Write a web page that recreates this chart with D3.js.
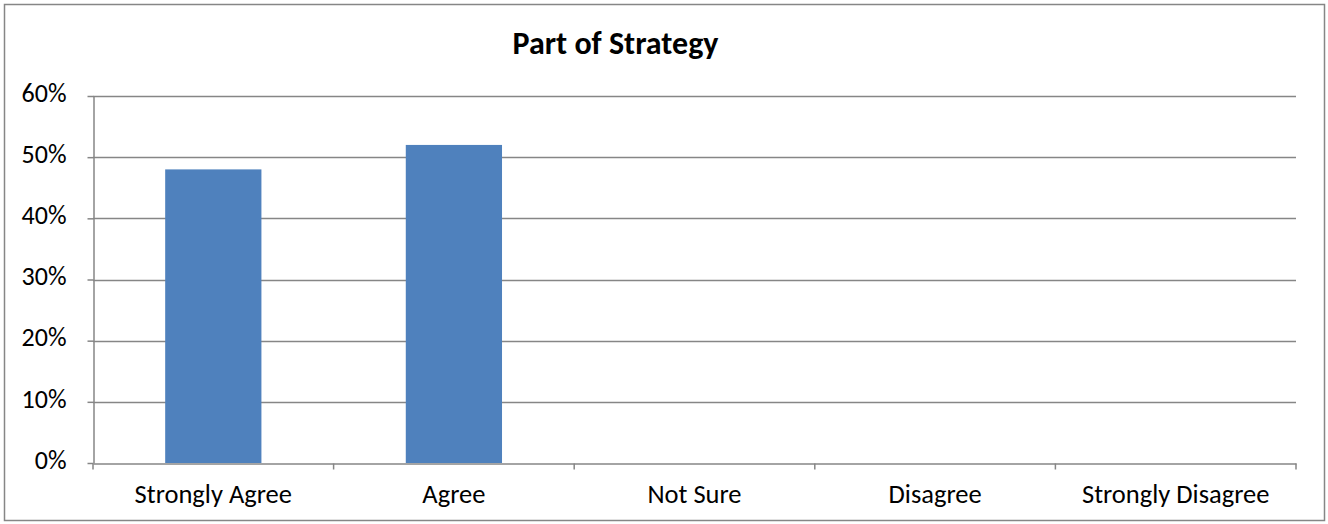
<!DOCTYPE html>
<html><head><meta charset="utf-8">
<script src="https://cdn.jsdelivr.net/npm/d3@7"></script>
<style>body{margin:0;background:#fff}svg{display:block}</style>
</head><body>
<svg id="c" width="1328" height="524"></svg>
<script>
const title = "Part of Strategy";
const categories = ["Strongly Agree","Agree","Not Sure","Disagree","Strongly Disagree"];
const values = [0.48, 0.52, 0, 0, 0];
const yTicks = [0, 0.1, 0.2, 0.3, 0.4, 0.5, 0.6];

const svg = d3.select("#c");
const font = "Carlito, 'Open Sans', 'Noto Sans', sans-serif";
const m = {l:93, r:1296, t:96, b:463};

svg.append("rect").attr("x",4.5).attr("y",4.5).attr("width",1320).attr("height",516)
  .attr("fill","#fff").attr("stroke","#868686").attr("stroke-width",1.5);

const x = d3.scaleBand().domain(categories).range([m.l, m.r]).padding(0);
const y = d3.scaleLinear().domain([0, 0.6]).range([m.b, m.t]);

// gridlines
svg.append("g").selectAll("line").data(yTicks.filter(d=>d>0)).join("line")
  .attr("x1", m.l).attr("x2", m.r).attr("y1", d=>Math.round(y(d))+0.5).attr("y2", d=>Math.round(y(d))+0.5)
  .attr("stroke","#868686").attr("stroke-width",1.5);

// bars
svg.append("g").selectAll("rect").data(categories.map((c,i)=>({c, v:values[i]})).filter(d=>d.v>0)).join("rect")
  .attr("x", d=>x(d.c)+x.bandwidth()*0.3).attr("width", x.bandwidth()*0.4)
  .attr("y", d=>y(d.v)).attr("height", d=>y(0)-y(d.v))
  .attr("fill","#4f81bd");

// y axis
const ya = svg.append("g").attr("transform",`translate(${m.l+0.5},0)`)
  .call(d3.axisLeft(y).tickValues(yTicks).tickFormat(d3.format(".0%")).tickSize(6).tickSizeOuter(0));
ya.select(".domain").attr("stroke","#868686").attr("stroke-width",1.5);
ya.selectAll(".tick line").attr("stroke","#868686").attr("stroke-width",1.5);
ya.selectAll("text").attr("font-family",font).attr("font-size",26).attr("fill","#000").attr("dx",-18).attr("dy","0.2em");

// x axis
const xa = svg.append("g").attr("transform",`translate(0,${m.b+0.5})`)
  .call(d3.axisBottom(x).tickSize(0).tickSizeOuter(0));
xa.select(".domain").attr("stroke","#868686").attr("stroke-width",1.5);
xa.selectAll(".tick text").attr("font-family",font).attr("font-size",26.5).attr("fill","#000").attr("dy",36);
// category separators
const seps = categories.map(c=>x(c)).concat([m.r]);
xa.append("g").selectAll("line").data(seps).join("line")
  .attr("x1",d=>d).attr("x2",d=>d).attr("y1",0).attr("y2",6)
  .attr("stroke","#868686").attr("stroke-width",1.5);

svg.append("text").attr("x", 615.5).attr("y", 54).attr("text-anchor","middle")
  .attr("font-family",font).attr("font-weight","bold").attr("font-size",32).text(title);
</script>
</body></html>
